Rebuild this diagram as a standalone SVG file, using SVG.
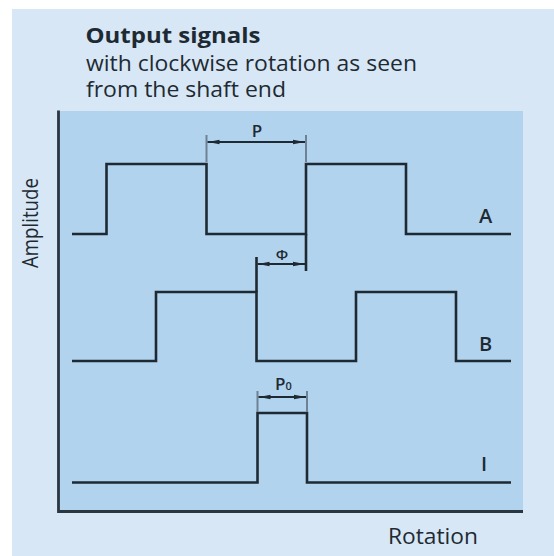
<svg xmlns="http://www.w3.org/2000/svg" width="554" height="556" viewBox="0 0 554 556">
<defs>
<marker id="arr" viewBox="0 0 12 6" refX="12" refY="3" markerWidth="12" markerHeight="6" markerUnits="userSpaceOnUse" orient="auto-start-reverse">
<path d="M0,0.8 L12,3 L0,5.2 Z" fill="#1e2a33"/>
</marker>
</defs>
<style>
.sig{fill:none;stroke:#1e2a33;stroke-width:2.6;stroke-linejoin:miter}
.axis{fill:none;stroke:#2a3640;stroke-width:2.8}
.ext{fill:none;stroke:#6f8194;stroke-width:2}
.dim{fill:none;stroke:#1e2a33;stroke-width:1.8}
.t{font-family:"Open Sans","Noto Sans",sans-serif;fill:#1e2a33}
.lbl{font-weight:600}
</style>
<rect x="12" y="9" width="542" height="547" fill="#d7e7f5"/>
<rect x="59" y="111" width="464" height="401" fill="#b2d3ee"/>
<g id="title">
<text class="t" x="85.5" y="43" font-size="21" font-weight="bold" textLength="175" lengthAdjust="spacingAndGlyphs">Output signals</text>
<text class="t" x="86" y="71" font-size="21" textLength="331" lengthAdjust="spacingAndGlyphs">with clockwise rotation as seen</text>
<text class="t" x="86" y="97" font-size="21" textLength="200" lengthAdjust="spacingAndGlyphs">from the shaft end</text>
</g>
<g id="axes">
<path class="axis" d="M58.5,110.5 V511.5 H523"/>
<text class="t" x="0" y="0" font-size="21" transform="translate(38,268) rotate(-90)" textLength="90" lengthAdjust="spacingAndGlyphs">Amplitude</text>
<text class="t" x="388" y="544" font-size="21" textLength="90" lengthAdjust="spacingAndGlyphs">Rotation</text>
</g>
<g id="signalA">
<path class="sig" d="M72,234 H106.5 V164 H206.5 V234 H306 V164 H406 V234 H511"/>
<text class="t lbl" x="485.5" y="223" font-size="20" text-anchor="middle">A</text>
</g>
<g id="signalB">
<path class="sig" d="M72,361 H156 V292 H256.5 V361 H356 V292 H456 V361 H511"/>
<text class="t lbl" x="485.5" y="351" font-size="20" text-anchor="middle">B</text>
</g>
<g id="signalI">
<path class="sig" d="M72,482.5 H257.5 V413 H307 V482.5 H511"/>
<text class="t lbl" x="484" y="471" font-size="20" text-anchor="middle">I</text>
</g>
<g id="connectors">
<path class="ext" d="M206.5,135 V162 M306,135 V162"/>
<path class="dim" d="M207.5,142 H305" marker-start="url(#arr)" marker-end="url(#arr)"/>
<path class="sig" d="M306,234 V271 M256.5,292 V257"/>
<path class="dim" d="M257.5,264 H305" marker-start="url(#arr)" marker-end="url(#arr)"/>
<path class="ext" d="M257.5,391 V412 M307,391 V412"/>
<path class="dim" d="M258.5,397 H306" marker-start="url(#arr)" marker-end="url(#arr)"/>
<text class="t lbl" x="257" y="137" font-size="17" text-anchor="middle">P</text>
<text class="t lbl" x="282" y="260" font-size="15" text-anchor="middle">Φ</text>
<text class="t lbl" x="275" y="390" font-size="17">P<tspan font-size="11">0</tspan></text>
</g>
</svg>
